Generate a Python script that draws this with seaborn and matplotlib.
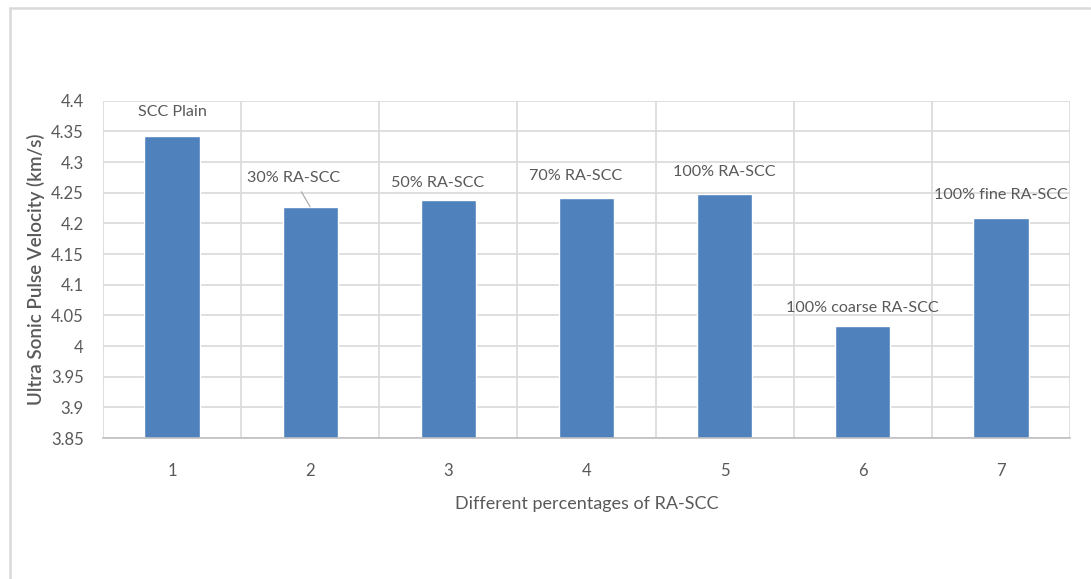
import matplotlib
matplotlib.use("Agg")
import matplotlib.pyplot as plt
import seaborn as sns
import pandas as pd
from matplotlib.lines import Line2D

# Data
groups = ["1", "2", "3", "4", "5", "6", "7"]
velocity = [4.342, 4.227, 4.238, 4.242, 4.248, 4.032, 4.209]
mix_labels = ["SCC Plain", "30% RA-SCC", "50% RA-SCC", "70% RA-SCC",
              "100% RA-SCC", "100% coarse RA-SCC", "100% fine RA-SCC"]
y_ticks = [3.85, 3.9, 3.95, 4.0, 4.05, 4.1, 4.15, 4.2, 4.25, 4.3, 4.35, 4.4]
y_tick_labels = ["3.85", "3.9", "3.95", "4", "4.05", "4.1", "4.15",
                 "4.2", "4.25", "4.3", "4.35", "4.4"]

# label offsets (pixels) relative to each bar top
label_dx = [0, -17, -11, -11, 0, 0, 0]
label_dy = [24, 29, 17, 22, 22, 18, 23]

sns.set_theme(style="white")
plt.rcParams["font.family"] = ["Lato", "DejaVu Sans"]

TXT = "#595959"
GRID = "#d9d9d9"
BAR = "#4f81bd"

df = pd.DataFrame({"group": groups, "velocity": velocity})

fig = plt.figure(figsize=(10.91, 5.79), dpi=100)
ax = fig.add_axes([0.0944, 0.2435, 0.8863, 0.5825])

sns.barplot(data=df, x="group", y="velocity", color=BAR, width=0.4,
            saturation=1, ax=ax, zorder=3)

ax.set_ylim(3.85, 4.4)
ax.set_xlim(-0.5, 6.5)
ax.set_yticks(y_ticks)
ax.set_yticklabels(y_tick_labels)
ax.set_xticks(range(len(groups)))
ax.set_xticks([i - 0.5 for i in range(len(groups) + 1)], minor=True)

ax.grid(axis="y", which="major", color=GRID, linewidth=1.2, zorder=0)
ax.grid(axis="x", which="minor", color=GRID, linewidth=1.2, zorder=0)
ax.grid(axis="x", which="major", visible=False)
ax.tick_params(axis="both", which="both", length=0, labelcolor=TXT, labelsize=12)
ax.tick_params(axis="y", pad=14)
ax.tick_params(axis="x", pad=18)

for side in ["top", "right", "left"]:
    ax.spines[side].set_visible(False)
ax.spines["bottom"].set_color("#bfbfbf")
ax.spines["bottom"].set_linewidth(1.2)
ax.spines["bottom"].set_zorder(4)

ax.set_xlabel("Different percentages of RA-SCC", fontsize=13, color=TXT, labelpad=12)
ax.set_ylabel("Ultra Sonic Pulse Velocity (km/s)", fontsize=13.5, color=TXT,
              labelpad=4, fontweight="semibold")

for i, (v, lab) in enumerate(zip(velocity, mix_labels)):
    props = None
    if i == 1:
        props = dict(arrowstyle="-", color="#a6a6a6", linewidth=0.8,
                     shrinkA=3, shrinkB=0)
    ax.annotate(lab, xy=(i, v), xytext=(label_dx[i], label_dy[i]),
                textcoords="offset pixels", ha="center", va="center",
                fontsize=11.6, color=TXT, arrowprops=props, zorder=5)

# outer chart frame
fig.add_artist(Line2D([10 / 1091, 10 / 1091], [0, 1 - 8 / 579],
                      transform=fig.transFigure, color=GRID, linewidth=1.8))
fig.add_artist(Line2D([10 / 1091, 1090 / 1091], [1 - 8 / 579, 1 - 8 / 579],
                      transform=fig.transFigure, color=GRID, linewidth=1.8))

fig.savefig("out.png", dpi=100)
